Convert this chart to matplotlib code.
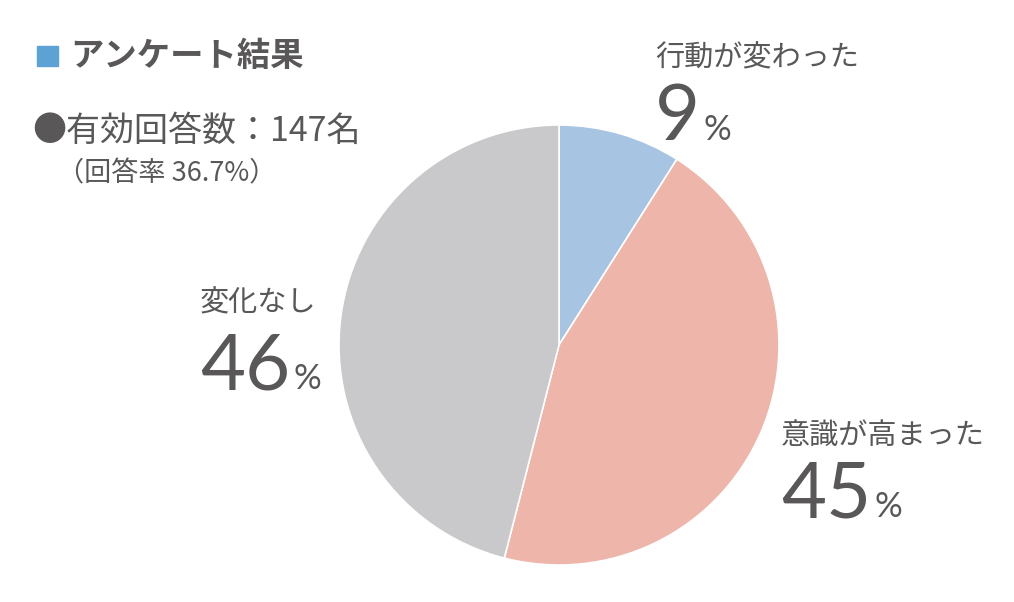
import matplotlib
matplotlib.use("Agg")
import matplotlib.pyplot as plt
from matplotlib.patches import Rectangle

plt.rcParams["font.family"] = ["Noto Sans CJK JP", "DejaVu Sans"]

labels = ["行動が変わった", "意識が高まった", "変化なし"]
values = [9, 45, 46]
colors = ["#a7c5e3", "#eeb5aa", "#c9c9cb"]

title = "アンケート結果"
count_text = "●有効回答数：147名"
rate_text = "（回答率 36.7%）"

W, H = 1014, 602
TXT = "#595757"

fig = plt.figure(figsize=(W / 100, H / 100), dpi=100)


def px(x, y):
    return x / W, 1 - y / H


# pie, center (559, 345), radius 220 px
cx, cy, r = 559, 345, 220
ax = fig.add_axes([(cx - r) / W, (H - cy - r) / H, 2 * r / W, 2 * r / H])
ax.pie(values, colors=colors, startangle=90, counterclock=False,
       wedgeprops=dict(edgecolor="white", linewidth=1.2))
ax.set_xlim(-1.0, 1.0)
ax.set_ylim(-1.0, 1.0)
ax.set_aspect("equal")
ax.axis("off")

# header
fig.patches.append(Rectangle(px(37, 66), 21 / W, 20 / H,
                             transform=fig.transFigure, color="#5ea1d4"))
fig.text(*px(70, 56), title, fontsize=24, fontweight="bold", color=TXT,
         va="center", ha="left")
fig.text(*px(32, 131), count_text, fontsize=24.5, color=TXT,
         va="center", ha="left")
fig.text(*px(57, 174), rate_text, fontsize=19.5, color=TXT,
         va="center", ha="left")

# slice labels: (label pos, number pos)
label_pos = [(655, 58), (781, 436), (200, 303)]
num_pos = [(655, 140), (781, 517), (200, 389)]

for lab, val, (lx, ly), (nx, ny) in zip(labels, values, label_pos, num_pos):
    fig.text(*px(lx, ly), lab, fontsize=21, color=TXT, va="center", ha="left")
    t = fig.text(*px(nx, ny), str(val), fontsize=56, color=TXT,
                 va="baseline", ha="left", family=["Lato", "DejaVu Sans"])
    fig.canvas.draw()
    bb = t.get_window_extent()
    fig.text((bb.x1 + 3) / W, 1 - ny / H, "%", fontsize=25, color=TXT,
             va="baseline", ha="left", family=["Lato", "DejaVu Sans"])

fig.savefig("out.png", dpi=100)
